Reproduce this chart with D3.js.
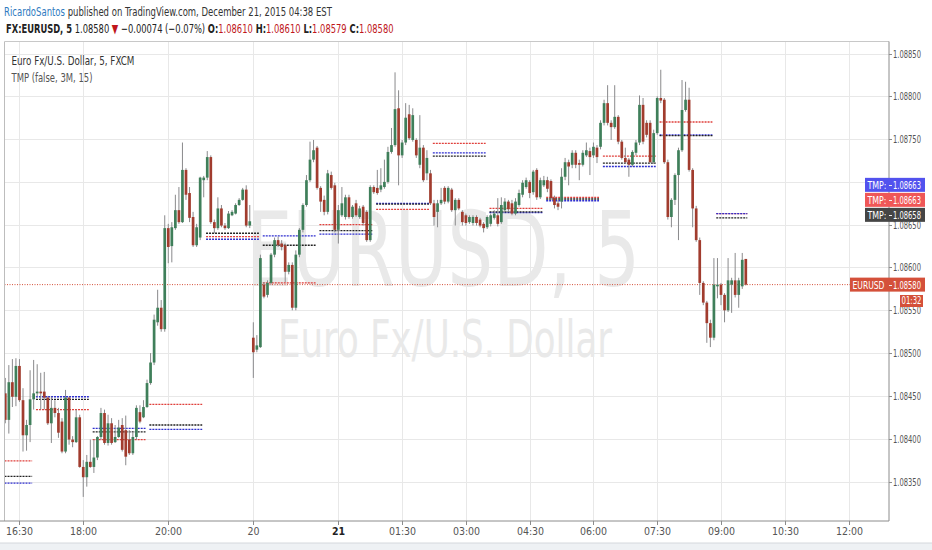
<!DOCTYPE html>
<html><head><meta charset="utf-8">
<script src="https://cdn.jsdelivr.net/npm/d3@7"></script>
<style>
html,body{margin:0;padding:0;background:#fff;}
svg{display:block;}
text{font-family:"Liberation Sans Narrow","Arial Narrow","DejaVu Sans Condensed",sans-serif;}
</style></head><body>
<svg id="c" width="932" height="550"></svg>
<script>
// ---------- DATA ----------
// 5-minute bars, [open, high, low, close]; bars 0-69 = Dec 18 16:10-21:55, bars 70-209 = Dec 20 22:00 - Dec 21 09:35
const ohlc = [
[1.08453,1.08471,1.08418,1.08422],[1.08422,1.08486,1.08406,1.08466],[1.08466,1.08493,1.08437,1.08449],[1.08449,1.08494,1.08438,1.08485],
[1.08485,1.08493,1.08443,1.08445],[1.08445,1.08459,1.08385,1.08404],[1.08404,1.08422,1.08386,1.08416],[1.08416,1.08480,1.08396,1.08446],
[1.08446,1.08492,1.08434,1.08453],[1.08453,1.08487,1.08449,1.08455],[1.08455,1.08477,1.08434,1.08453],[1.08455,1.08478,1.08434,1.08448],
[1.08448,1.08450,1.08416,1.08418],[1.08418,1.08449,1.08395,1.08436],[1.08436,1.08445,1.08425,1.08430],[1.08430,1.08436,1.08401,1.08407],
[1.08420,1.08424,1.08383,1.08385],[1.08385,1.08457,1.08383,1.08448],[1.08448,1.08449,1.08393,1.08399],[1.08399,1.08403,1.08390,1.08396],
[1.08396,1.08434,1.08395,1.08425],[1.08425,1.08428,1.08366,1.08367],[1.08367,1.08375,1.08332,1.08355],[1.08355,1.08381,1.08344,1.08373],
[1.08373,1.08399,1.08366,1.08367],[1.08367,1.08399,1.08360,1.08378],[1.08378,1.08403,1.08375,1.08402],[1.08402,1.08436,1.08399,1.08430],
[1.08430,1.08434,1.08393,1.08395],[1.08395,1.08428,1.08392,1.08418],[1.08418,1.08424,1.08393,1.08395],[1.08396,1.08416,1.08395,1.08402],
[1.08402,1.08422,1.08401,1.08413],[1.08416,1.08424,1.08385,1.08387],[1.08410,1.08427,1.08369,1.08379],[1.08399,1.08410,1.08381,1.08383],
[1.08383,1.08407,1.08381,1.08402],[1.08402,1.08439,1.08399,1.08436],[1.08431,1.08439,1.08418,1.08420],[1.08425,1.08445,1.08424,1.08437],
[1.08437,1.08469,1.08436,1.08465],[1.08465,1.08500,1.08463,1.08489],[1.08489,1.08545,1.08486,1.08539],[1.08536,1.08574,1.08532,1.08553],
[1.08553,1.08562,1.08525,1.08528],[1.08528,1.08661,1.08525,1.08646],[1.08646,1.08651,1.08605,1.08624],[1.08625,1.08653,1.08606,1.08647],
[1.08646,1.08685,1.08644,1.08667],[1.08667,1.08694,1.08651,1.08653],[1.08653,1.08746,1.08652,1.08714],[1.08714,1.08716,1.08679,1.08685],
[1.08687,1.08694,1.08653,1.08658],[1.08659,1.08665,1.08624,1.08626],[1.08626,1.08651,1.08624,1.08647],[1.08635,1.08706,1.08632,1.08705],
[1.08702,1.08707,1.08682,1.08705],[1.08705,1.08736,1.08702,1.08729],[1.08729,1.08731,1.08651,1.08653],[1.08653,1.08656,1.08640,1.08646],
[1.08646,1.08682,1.08644,1.08669],[1.08669,1.08673,1.08647,1.08649],[1.08649,1.08652,1.08644,1.08646],[1.08646,1.08666,1.08645,1.08663],
[1.08661,1.08667,1.08660,1.08665],[1.08663,1.08675,1.08662,1.08673],[1.08673,1.08681,1.08672,1.08679],[1.08679,1.08693,1.08678,1.08691],
[1.08691,1.08696,1.08647,1.08649],[1.08649,1.08673,1.08646,1.08654],
[1.08518,1.08536,1.08471,1.08501],[1.08504,1.08521,1.08501,1.08509],[1.08507,1.08615,1.08506,1.08611],[1.08580,1.08583,1.08564,1.08566],
[1.08568,1.08585,1.08565,1.08582],[1.08582,1.08617,1.08580,1.08615],[1.08615,1.08635,1.08612,1.08632],[1.08632,1.08636,1.08624,1.08626],
[1.08628,1.08632,1.08620,1.08624],[1.08626,1.08628,1.08583,1.08595],[1.08595,1.08606,1.08592,1.08603],[1.08603,1.08606,1.08550,1.08553],
[1.08553,1.08620,1.08550,1.08615],[1.08615,1.08646,1.08612,1.08644],[1.08644,1.08675,1.08641,1.08673],[1.08673,1.08708,1.08671,1.08702],
[1.08702,1.08747,1.08700,1.08726],[1.08726,1.08749,1.08723,1.08737],[1.08740,1.08742,1.08691,1.08693],[1.08693,1.08695,1.08665,1.08677],
[1.08679,1.08684,1.08661,1.08665],[1.08665,1.08714,1.08662,1.08710],[1.08708,1.08712,1.08691,1.08693],[1.08696,1.08699,1.08641,1.08644],
[1.08644,1.08673,1.08628,1.08667],[1.08661,1.08694,1.08659,1.08675],[1.08659,1.08685,1.08656,1.08682],[1.08682,1.08685,1.08657,1.08659],
[1.08659,1.08673,1.08657,1.08671],[1.08675,1.08679,1.08659,1.08661],[1.08659,1.08672,1.08657,1.08669],[1.08671,1.08673,1.08649,1.08652],
[1.08665,1.08667,1.08630,1.08632],[1.08632,1.08696,1.08630,1.08694],[1.08694,1.08696,1.08686,1.08688],[1.08693,1.08714,1.08685,1.08687],
[1.08691,1.08716,1.08688,1.08696],[1.08694,1.08726,1.08692,1.08700],[1.08700,1.08741,1.08698,1.08735],[1.08735,1.08763,1.08733,1.08743],
[1.08743,1.08828,1.08741,1.08785],[1.08786,1.08807,1.08696,1.08731],[1.08731,1.08749,1.08728,1.08746],[1.08746,1.08792,1.08743,1.08775],
[1.08779,1.08790,1.08749,1.08751],[1.08749,1.08786,1.08747,1.08778],[1.08749,1.08751,1.08728,1.08731],[1.08720,1.08778,1.08716,1.08740],
[1.08740,1.08743,1.08700,1.08702],[1.08710,1.08737,1.08702,1.08728],[1.08710,1.08714,1.08673,1.08675],[1.08675,1.08679,1.08649,1.08659],
[1.08665,1.08679,1.08647,1.08675],[1.08675,1.08693,1.08673,1.08679],[1.08693,1.08695,1.08674,1.08677],[1.08677,1.08695,1.08675,1.08693],
[1.08691,1.08693,1.08665,1.08667],[1.08667,1.08681,1.08649,1.08679],[1.08679,1.08681,1.08667,1.08669],[1.08665,1.08667,1.08649,1.08653],
[1.08661,1.08663,1.08649,1.08652],[1.08653,1.08661,1.08651,1.08659],[1.08652,1.08661,1.08649,1.08659],[1.08659,1.08661,1.08649,1.08652],
[1.08656,1.08658,1.08647,1.08649],[1.08651,1.08653,1.08641,1.08646],[1.08647,1.08661,1.08645,1.08659],[1.08651,1.08663,1.08648,1.08661],
[1.08658,1.08667,1.08656,1.08663],[1.08661,1.08681,1.08648,1.08651],[1.08653,1.08682,1.08651,1.08673],[1.08667,1.08681,1.08665,1.08677],
[1.08677,1.08679,1.08665,1.08668],[1.08675,1.08679,1.08661,1.08663],[1.08663,1.08681,1.08661,1.08677],[1.08673,1.08691,1.08671,1.08687],
[1.08685,1.08702,1.08682,1.08699],[1.08694,1.08705,1.08692,1.08702],[1.08700,1.08702,1.08681,1.08687],[1.08688,1.08714,1.08685,1.08712],
[1.08714,1.08716,1.08679,1.08682],[1.08682,1.08705,1.08680,1.08702],[1.08696,1.08707,1.08694,1.08702],[1.08702,1.08706,1.08688,1.08692],
[1.08701,1.08703,1.08679,1.08681],[1.08681,1.08684,1.08669,1.08673],[1.08675,1.08679,1.08667,1.08671],[1.08677,1.08716,1.08669,1.08706],
[1.08706,1.08728,1.08702,1.08723],[1.08723,1.08726,1.08696,1.08718],[1.08720,1.08737,1.08716,1.08734],[1.08734,1.08737,1.08716,1.08720],
[1.08722,1.08726,1.08702,1.08720],[1.08720,1.08737,1.08718,1.08734],[1.08731,1.08746,1.08729,1.08737],[1.08736,1.08740,1.08708,1.08729],
[1.08731,1.08746,1.08728,1.08741],[1.08740,1.08743,1.08722,1.08729],[1.08741,1.08772,1.08738,1.08769],[1.08769,1.08796,1.08766,1.08792],
[1.08792,1.08813,1.08766,1.08769],[1.08769,1.08772,1.08749,1.08764],[1.08764,1.08813,1.08762,1.08776],[1.08776,1.08778,1.08744,1.08747],
[1.08747,1.08749,1.08726,1.08728],[1.08728,1.08740,1.08721,1.08723],[1.08726,1.08728,1.08706,1.08720],[1.08720,1.08737,1.08718,1.08735],
[1.08734,1.08749,1.08731,1.08746],[1.08746,1.08801,1.08743,1.08790],[1.08790,1.08798,1.08744,1.08747],[1.08769,1.08772,1.08752,1.08755],
[1.08769,1.08772,1.08722,1.08723],[1.08723,1.08761,1.08721,1.08757],[1.08757,1.08800,1.08755,1.08798],[1.08798,1.08831,1.08792,1.08795],
[1.08796,1.08798,1.08721,1.08723],[1.08723,1.08726,1.08656,1.08659],[1.08659,1.08681,1.08647,1.08679],[1.08679,1.08710,1.08673,1.08708],
[1.08708,1.08740,1.08632,1.08737],[1.08737,1.08819,1.08735,1.08784],[1.08784,1.08817,1.08782,1.08796],[1.08796,1.08810,1.08712,1.08714],
[1.08714,1.08716,1.08647,1.08669],[1.08669,1.08672,1.08630,1.08632],[1.08632,1.08635,1.08568,1.08582],[1.08582,1.08584,1.08556,1.08559],
[1.08559,1.08561,1.08512,1.08535],[1.08535,1.08539,1.08507,1.08518],[1.08518,1.08611,1.08515,1.08580],[1.08578,1.08611,1.08564,1.08580],
[1.08580,1.08582,1.08556,1.08568],[1.08568,1.08570,1.08536,1.08550],[1.08550,1.08611,1.08548,1.08585],[1.08580,1.08588,1.08547,1.08585],
[1.08585,1.08617,1.08565,1.08568],[1.08568,1.08588,1.08553,1.08585],[1.08578,1.08617,1.08575,1.08609],[1.08610,1.08610,1.08579,1.08580]
];
const lastPrice = 1.08580;
const priceTicks = [1.0835,1.0840,1.0845,1.0850,1.0855,1.0860,1.0865,1.0870,1.0875,1.0880,1.0885];
const timeTickBars = [4,22,46,70,94,112,130,148,166,184,202,220,238];
const timeTickLabels = ["16:30","18:00","20:00","20","21","01:30","03:00","04:30","06:00","07:30","09:00","10:30","12:00"];
// TMP indicator: one level set per 16-bar period (starting bar of each period)
const tmpStartBar = [-7,9,25,41,57,73,89,105,121,137,153,169,185,201];
const tmpRed   = [1.08374,1.08434,1.08399,1.08440,1.08636,1.08582,1.08650,1.08668,1.08745,1.08669,1.08682,1.08730,1.08770,1.08663];
const tmpBlue  = [1.08348,1.08449,1.08412,1.08411,1.08633,1.08637,1.08639,1.08675,1.08734,1.08664,1.08678,1.08718,1.08755,1.08663];
const tmpBlack = [1.08356,1.08446,1.08408,1.08416,1.08640,1.08626,1.08643,1.08674,1.08730,1.08665,1.08680,1.08722,1.08754,1.08658];

// ---------- CHART ----------
const svg = d3.select("#c");
const P = {l:4.5, r:889, t:41.5, b:521};
const nBars = ohlc.length;
const x = d3.scaleLinear().domain([0, 209]).range([5.3, 745.8]);
const y = d3.scaleLinear().domain([1.0835, 1.0885]).range([481.5, 53.5]);
const fmt = d3.format(".5f");

function squeeze(sel, target){
  const n = sel.node(); const w = n.getComputedTextLength();
  if (!w) return;
  const k = target / w; const x0 = +sel.attr("x");
  sel.attr("transform", `translate(${x0*(1-k)},0) scale(${k},1)`);
}

svg.append("rect").attr("width",932).attr("height",550).attr("fill","#fff");
svg.append("rect").attr("x",0).attr("y",543).attr("width",932).attr("height",7).attr("fill","#eef1f4");
svg.append("line").attr("x1",0).attr("x2",932).attr("y1",543).attr("y2",543).attr("stroke","#d4d8dc");

svg.append("clipPath").attr("id","pc").append("rect")
  .attr("x",P.l).attr("y",P.t).attr("width",P.r-P.l).attr("height",P.b-P.t);
const plot = svg.append("g").attr("clip-path","url(#pc)");

// grid
plot.selectAll(".hg").data(priceTicks).enter().append("line")
  .attr("x1",P.l).attr("x2",P.r).attr("y1",d=>Math.round(y(d))+0.5).attr("y2",d=>Math.round(y(d))+0.5)
  .attr("stroke","#e8e8e8");
plot.selectAll(".vg").data(timeTickBars).enter().append("line")
  .attr("y1",P.t).attr("y2",P.b).attr("x1",d=>Math.round(x(d))+0.5).attr("x2",d=>Math.round(x(d))+0.5)
  .attr("stroke","#e8e8e8");

// watermark
const wm1 = plot.append("text").attr("x",247).attr("y",286).attr("font-size",104)
  .attr("fill","#e9e9e9").text("EURUSD, 5");
squeeze(wm1, 393);
const wm2 = plot.append("text").attr("x",278).attr("y",357).attr("font-size",52)
  .attr("fill","#e9e9e9").text("Euro Fx/U.S. Dollar");
squeeze(wm2, 334);

// TMP level segments
const segs = [];
tmpStartBar.forEach((s,k)=>{
  const x1 = Math.max(P.l, x(s)-1.2);
  const x2 = Math.min(x(s+15)-1.5, x(nBars-1)+1.5);
  segs.push({x1,x2,v:tmpRed[k],c:"#e0403c"});
  segs.push({x1,x2,v:tmpBlue[k],c:"#2f2fcf"});
  segs.push({x1,x2,v:tmpBlack[k],c:"#222"});
});
plot.selectAll(".seg").data(segs).enter().append("line")
  .attr("x1",d=>d.x1).attr("x2",d=>d.x2)
  .attr("y1",d=>y(d.v)).attr("y2",d=>y(d.v))
  .attr("stroke",d=>d.c).attr("stroke-width",1.3).attr("stroke-dasharray","2,1");

// last price line
plot.append("line").attr("x1",P.l).attr("x2",P.r)
  .attr("y1",y(lastPrice)).attr("y2",y(lastPrice))
  .attr("stroke","#d4503a").attr("stroke-width",1).attr("stroke-dasharray","1,1.5");

// candles
const cg = plot.append("g");
cg.selectAll(".wick").data(ohlc).enter().append("line")
  .attr("x1",(d,i)=>x(i)).attr("x2",(d,i)=>x(i))
  .attr("y1",d=>y(d[1])).attr("y2",d=>y(d[2]))
  .attr("stroke","#8a8a8c").attr("stroke-width",1);
cg.selectAll(".body").data(ohlc).enter().append("rect")
  .attr("x",(d,i)=>x(i)-1.35).attr("width",2.7)
  .attr("y",d=>y(Math.max(d[0],d[3])))
  .attr("height",d=>Math.max(1,Math.abs(y(d[0])-y(d[3]))))
  .attr("fill",d=>d[3]>=d[0]?"#3f7f5a":"#a13c2e");

// frame
svg.append("line").attr("x1",P.l).attr("x2",P.l).attr("y1",P.t).attr("y2",P.b).attr("stroke","#bdbdbd");
svg.append("line").attr("x1",P.l).attr("x2",P.r).attr("y1",P.t).attr("y2",P.t).attr("stroke","#c8c8c8");
svg.append("line").attr("x1",P.r).attr("x2",P.r).attr("y1",P.t).attr("y2",P.b).attr("stroke","#8c8c8c");
svg.append("line").attr("x1",0).attr("x2",P.r).attr("y1",P.b).attr("y2",P.b).attr("stroke","#8c8c8c");

// price labels on the axis (boxes), computed first so hidden tick labels can be skipped
const blackC = y(tmpBlack[tmpBlack.length-1]) - 3;
const boxes = [
  {cy:blackC-30, left:865, label:"TMP:", lw:19, value:tmpBlue[tmpBlue.length-1], color:"#5252ee"},
  {cy:blackC-15, left:865, label:"TMP:", lw:19, value:tmpRed[tmpRed.length-1], color:"#ef5757"},
  {cy:blackC,    left:865, label:"TMP:", lw:19, value:tmpBlack[tmpBlack.length-1], color:"#454545"},
  {cy:y(lastPrice), left:850, label:"EURUSD", lw:32, value:lastPrice, color:"#d4503a"}
];

// right axis
const ra = svg.append("g");
priceTicks.forEach(p=>{
  const yy = Math.round(y(p))+0.5;
  ra.append("line").attr("x1",P.r).attr("x2",P.r+3).attr("y1",yy).attr("y2",yy).attr("stroke","#8c8c8c");
  const hidden = boxes.some(b=>Math.abs(b.cy-yy)<4);
  if (!hidden) {
    const t = ra.append("text").attr("x",893).attr("y",yy+4).attr("font-size",11).attr("fill","#555").text(fmt(p));
    squeeze(t, 28);
  }
});

// time axis
timeTickBars.forEach((b,k)=>{
  const xx = Math.round(x(b))+0.5;
  svg.append("line").attr("x1",xx).attr("x2",xx).attr("y1",P.b).attr("y2",P.b+4).attr("stroke","#8c8c8c");
  svg.append("text").attr("x",xx).attr("y",535).attr("text-anchor","middle").attr("font-size",10.5)
    .attr("fill", timeTickLabels[k]==="21"?"#222":"#555")
    .attr("font-weight", timeTickLabels[k]==="21"?"bold":"normal")
    .text(timeTickLabels[k]);
});

boxes.forEach(b=>{
  const g = svg.append("g");
  g.append("rect").attr("x",b.left).attr("y",b.cy-7).attr("width",925-b.left).attr("height",14).attr("fill",b.color);
  g.append("line").attr("x1",P.r).attr("x2",P.r+3).attr("y1",Math.round(b.cy)+0.5).attr("y2",Math.round(b.cy)+0.5).attr("stroke","#eee");
  const t1 = g.append("text").attr("x",b.left+2.5).attr("y",b.cy+4).attr("font-size",10.5).attr("fill","#fff").text(b.label);
  squeeze(t1, b.lw);
  const t2 = g.append("text").attr("x",893).attr("y",b.cy+4).attr("font-size",11).attr("fill","#fff").text(fmt(b.value));
  squeeze(t2, 28);
});
svg.append("rect").attr("x",900).attr("y",295).attr("width",23).attr("height",12).attr("fill","#d4503a");
const cd = svg.append("text").attr("x",901.5).attr("y",304.5).attr("font-size",10.5).attr("fill","#fff").text("01:32");
squeeze(cd, 20);

// header
const h1 = svg.append("text").attr("x",4).attr("y",16).attr("font-size",13).attr("fill","#333");
h1.append("tspan").attr("fill","#2f7bbf").text("RicardoSantos");
h1.append("tspan").text(" published on TradingView.com, December 21, 2015 04:38 EST");
squeeze(h1, 328);
const h2 = svg.append("text").attr("x",6).attr("y",33).attr("font-size",12.5).attr("fill","#222");
h2.append("tspan").attr("font-weight","bold").text("FX:EURUSD, 5");
h2.append("tspan").text(" 1.08580 ");
h2.append("tspan").attr("fill","#c0161b").text("▼");
h2.append("tspan").text(" −0.00074 (−0.07%) ");
[["O:","1.08610"],["H:","1.08610"],["L:","1.08579"],["C:","1.08580"]].forEach((p,k)=>{
  h2.append("tspan").attr("font-weight","bold").text((k?" ":"")+p[0]);
  h2.append("tspan").attr("fill","#c0161b").text(p[1]);
});
squeeze(h2, 388);

// pane legend
const l1 = svg.append("text").attr("x",11.5).attr("y",65.5).attr("font-size",12.5).attr("fill","#333").text("Euro Fx/U.S. Dollar, 5, FXCM");
squeeze(l1, 123);
const l2 = svg.append("text").attr("x",11.5).attr("y",82).attr("font-size",12).attr("fill","#555").text("TMP (false, 3M, 15)");
squeeze(l2, 81);
</script>
</body></html>
